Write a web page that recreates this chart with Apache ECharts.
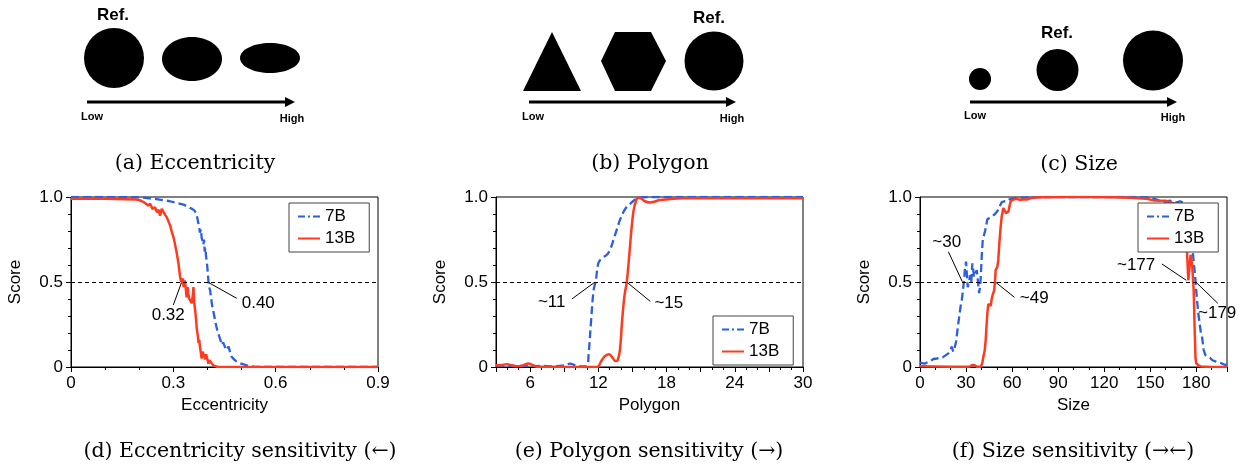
<!DOCTYPE html>
<html>
<head>
<meta charset="utf-8">
<script src="https://cdn.jsdelivr.net/npm/echarts@6/dist/echarts.min.js"></script>
<style>
  html, body { margin: 0; padding: 0; background: #fff; }
  #main { width: 1243px; height: 465px; }
</style>
</head>
<body>
<div id="main"></div>
<script>
// ---- data ----
// (d) eccentricity sensitivity
var ecc7B = [[0,1],[0.1,1],[0.2,0.998],[0.23,0.992],[0.25,0.988],[0.27,0.982],[0.29,0.975],[0.31,0.965],[0.33,0.955],[0.345,0.94],[0.355,0.93],[0.362,0.92],[0.367,0.905],[0.37,0.88],[0.373,0.85],[0.376,0.82],[0.378,0.79],[0.381,0.81],[0.383,0.76],[0.386,0.74],[0.388,0.72],[0.39,0.75],[0.392,0.68],[0.394,0.7],[0.396,0.65],[0.398,0.62],[0.4,0.58],[0.402,0.53],[0.403,0.5],[0.405,0.47],[0.408,0.45],[0.411,0.4],[0.413,0.37],[0.416,0.34],[0.418,0.33],[0.42,0.3],[0.423,0.27],[0.426,0.24],[0.428,0.235],[0.431,0.2],[0.435,0.178],[0.438,0.16],[0.441,0.13],[0.443,0.12],[0.446,0.145],[0.448,0.15],[0.451,0.12],[0.455,0.1],[0.458,0.11],[0.462,0.12],[0.466,0.09],[0.471,0.06],[0.478,0.045],[0.486,0.03],[0.496,0.022],[0.506,0.016],[0.515,0.01],[0.525,0.005],[0.54,0.001],[0.6,0],[0.9,0]];
var ecc13B = [[0,0.99],[0.1,0.99],[0.19,0.985],[0.2,0.982],[0.208,0.975],[0.217,0.965],[0.226,0.95],[0.232,0.96],[0.239,0.93],[0.246,0.94],[0.252,0.91],[0.257,0.925],[0.261,0.89],[0.266,0.93],[0.271,0.92],[0.276,0.895],[0.281,0.88],[0.286,0.855],[0.291,0.83],[0.296,0.79],[0.301,0.76],[0.306,0.71],[0.31,0.67],[0.315,0.61],[0.318,0.56],[0.32,0.53],[0.323,0.5],[0.325,0.49],[0.328,0.52],[0.33,0.47],[0.334,0.51],[0.337,0.45],[0.339,0.41],[0.342,0.47],[0.344,0.43],[0.347,0.4],[0.349,0.39],[0.352,0.41],[0.354,0.375],[0.357,0.42],[0.359,0.47],[0.361,0.38],[0.364,0.335],[0.367,0.27],[0.369,0.22],[0.372,0.18],[0.374,0.14],[0.376,0.16],[0.378,0.12],[0.381,0.08],[0.383,0.05],[0.386,0.09],[0.388,0.1],[0.391,0.06],[0.393,0.045],[0.396,0.075],[0.398,0.07],[0.401,0.035],[0.403,0.02],[0.406,0.04],[0.408,0.05],[0.411,0.025],[0.413,0.02],[0.417,0.01],[0.422,0.003],[0.43,0],[0.9,0]];
var eccTicks = [0, 0.3, 0.6, 0.9];
var eccNotes = [[0.285,0.306,'0.32'],[0.549,0.375,'0.40']];
var eccPointers = [[[0.3,0.365],[0.324,0.497]],[[0.403,0.497],[0.486,0.404]]];

// (e) polygon sensitivity
var poly7B = [[3,0.01],[4,0.008],[5,0.006],[6,0.005],[7,0.006],[8,0.004],[9,0.01],[9.5,0.02],[10.1,0.006],[10.6,0.003],[11,0.005],[11.15,0.08],[11.35,0.26],[11.58,0.45],[11.78,0.51],[12,0.61],[12.3,0.64],[12.75,0.66],[13.04,0.69],[13.34,0.75],[13.63,0.81],[13.93,0.87],[14.37,0.93],[14.8,0.96],[15.25,0.985],[15.7,0.998],[16.5,1],[18,1],[20,1],[25,1],[30,1]];
var poly13B = [[3,0.01],[3.5,0.012],[3.94,0.016],[4.4,0.01],[4.8,0.004],[5.3,0.008],[5.85,0.02],[6.2,0.012],[6.6,0.002],[7.5,0.001],[8.5,0.001],[9.5,0],[10.5,0],[11.5,0],[11.9,0],[12.3,0.04],[12.6,0.065],[12.95,0.075],[13.3,0.05],[13.5,0.035],[13.7,0.04],[13.9,0.1],[14.1,0.28],[14.3,0.42],[14.5,0.5],[14.7,0.64],[14.9,0.8],[15.1,0.92],[15.3,0.975],[15.5,0.995],[15.8,0.99],[16.1,0.975],[16.5,0.968],[16.9,0.972],[17.4,0.982],[18.3,0.988],[19.5,0.992],[22,0.993],[25,0.993],[30,0.993]];
var polyTicks = [6, 12, 18, 24, 30];
var polyNotes = [[7.9,0.38,'~11'],[18.2,0.373,'~15']];
var polyPointers = [[[9.67,0.4],[11.65,0.497]],[[14.55,0.497],[16.57,0.386]]];

// (f) size sensitivity
var size7B = [[0,0.027],[1.5,0.022],[3.3,0.02],[5,0.028],[6.5,0.033],[8.7,0.047],[11,0.05],[13,0.053],[15,0.058],[16.3,0.063],[18.5,0.08],[20,0.1],[20.6,0.12],[21.7,0.09],[22.5,0.11],[23.5,0.15],[25,0.26],[26.5,0.36],[27.2,0.39],[27.8,0.4],[28.7,0.51],[29.3,0.58],[30,0.62],[30.5,0.55],[31.1,0.47],[32,0.5],[32.6,0.54],[33.4,0.5],[34.1,0.61],[34.7,0.57],[35.2,0.53],[36,0.55],[37,0.57],[37.8,0.5],[38.5,0.435],[39.1,0.47],[39.6,0.53],[40.2,0.65],[40.9,0.75],[42.4,0.8],[43.9,0.87],[45,0.875],[46.1,0.88],[47.5,0.89],[48.9,0.9],[50,0.91],[51.1,0.925],[52.2,0.95],[53.3,0.97],[55,0.975],[56.5,0.975],[58,0.985],[59.8,0.99],[62,0.993],[65.2,0.995],[70,0.998],[80,1],[100,1],[120,1],[140,1],[147.8,0.998],[151,0.992],[154.3,0.985],[156.5,0.975],[158.7,0.97],[161,0.975],[163,0.978],[165,0.972],[167.4,0.968],[169.5,0.975],[171.7,0.965],[174,0.9],[176,0.8],[177.5,0.7],[178.5,0.6],[179.3,0.53],[180.4,0.4],[181.5,0.3],[183,0.2],[183.7,0.18],[184.8,0.1],[185.9,0.07],[187.5,0.06],[189.1,0.053],[190.5,0.04],[192.4,0.033],[193.5,0.025],[195.7,0.024],[197,0.015],[198.9,0.012],[200,0.015]];
var size13B = [[0,0.004],[10,0.003],[20,0.002],[30,0.002],[32.6,0.003],[34,0.012],[34.8,0.02],[35.6,0.01],[37,0.002],[39.6,0.002],[40.5,0.02],[41.3,0.06],[42.2,0.1],[42.8,0.16],[43.4,0.25],[43.9,0.32],[44.5,0.37],[45,0.38],[45.6,0.37],[46.1,0.36],[46.7,0.4],[47.2,0.42],[48.3,0.45],[48.8,0.5],[49.3,0.57],[50.4,0.59],[51,0.63],[51.7,0.73],[52.5,0.82],[53.3,0.89],[54.3,0.935],[55,0.925],[56,0.905],[57,0.91],[57.6,0.915],[58.4,0.95],[59.1,0.975],[60.9,0.985],[63,0.99],[65.2,0.983],[67,0.985],[69.6,0.985],[72.8,0.995],[80,0.998],[93.5,1],[110,1],[125,0.998],[137,0.995],[147.8,0.99],[152.2,0.98],[160,0.978],[166,0.96],[170,0.88],[172.5,0.75],[174,0.67],[174.8,0.51],[176.3,0.66],[177.3,0.6],[178.3,0.45],[179,0.2],[179.5,0.05],[180,0.02],[181.5,0.01],[183,0.003],[190,0],[200,0]];
var sizeTicks = [0, 30, 60, 90, 120, 150, 180];
var sizeNotes = [[17.4,0.733,'~30'],[74.4,0.404,'~49'],[140.8,0.6,'~177'],[193.6,0.316,'~179']];
var sizePointers = [[[18.5,0.678],[27.5,0.503]],[[49.5,0.497],[61.5,0.41]],[[157.6,0.606],[173.5,0.51]],[[180.2,0.495],[194,0.375]]];

// ---- style ----
var BLUE = "#2b5fe3";
var RED = "#ff3a1f";
var SANS = '"Liberation Sans", Arial, sans-serif';
var SERIF = '"DejaVu Serif", serif';

var mychart = echarts.init(document.getElementById("main"));

var panels = [
  { left: 71, name: "Eccentricity", min: 0, max: 0.9, interval: 0.3, minor: 3, ticks: eccTicks,
    b: ecc7B, r: ecc13B, notes: eccNotes, pointers: eccPointers, legend: [289, 203], smooth: false },
  { left: 496, name: "Polygon", min: 3, max: 30, interval: 3, minor: 3, ticks: polyTicks,
    b: poly7B, r: poly13B, notes: polyNotes, pointers: polyPointers, legend: [713, 316], smooth: 0.35 },
  { left: 920, name: "Size", min: 0, max: 200, interval: 30, minor: 3, ticks: sizeTicks,
    b: size7B, r: size13B, notes: sizeNotes, pointers: sizePointers, legend: [1138, 203], smooth: false },
];

var grids = [], xAxes = [], yAxes = [], series = [], legends = [];

panels.forEach(function (p, i) {
  grids.push({ left: p.left, top: 197, width: 307, height: 170, show: true,
    borderColor: "#000", borderWidth: 1, backgroundColor: "transparent" });

  xAxes.push({
    gridIndex: i, type: "value", min: p.min, max: p.max, interval: p.interval,
    name: p.name, nameLocation: "middle", nameGap: 30,
    nameTextStyle: { fontSize: 17, color: "#000", fontFamily: SANS },
    axisLine: { show: true, lineStyle: { color: "#000", width: 1 } },
    axisTick: { show: true, length: 5, lineStyle: { color: "#000" } },
    minorTick: { show: true, splitNumber: p.minor, length: 3, lineStyle: { color: "#000" } },
    splitLine: { show: false },
    axisLabel: {
      fontSize: 17, color: "#000", fontFamily: SANS, margin: 8,
      formatter: function (v) {
        var hit = p.ticks.filter(function (t) { return Math.abs(t - v) < 1e-6; });
        if (!hit.length) return "";
        if (v === 0) return "0";
        return p.max < 1 ? v.toFixed(1) : String(Math.round(v));
      },
    },
  });

  yAxes.push({
    gridIndex: i, type: "value", min: 0, max: 1, interval: 0.5,
    name: "Score", nameLocation: "middle", nameGap: 47,
    nameTextStyle: { fontSize: 17, color: "#000", fontFamily: SANS },
    axisLine: { show: true, lineStyle: { color: "#000", width: 1 } },
    axisTick: { show: true, length: 5, lineStyle: { color: "#000" } },
    minorTick: { show: true, splitNumber: 5, length: 3, lineStyle: { color: "#000" } },
    splitLine: { show: false },
    axisLabel: {
      fontSize: 17, color: "#000", fontFamily: SANS, margin: 8,
      formatter: function (v) {
        return v === 0 ? "0" : v.toFixed(1);
      },
    },
  });

  series.push({
    name: "7B", type: "line", xAxisIndex: i, yAxisIndex: i, data: p.b,
    symbol: "none", smooth: p.smooth, z: 3,
    lineStyle: { color: BLUE, width: 2.3, type: [8, 4] },
    itemStyle: { color: BLUE },
  });
  series.push({
    name: "13B", type: "line", xAxisIndex: i, yAxisIndex: i, data: p.r,
    symbol: "none", smooth: p.smooth, z: 4,
    lineStyle: { color: RED, width: 2.5 },
    itemStyle: { color: RED },
  });

  // labels plus the pointer lines and the 0.5 reference
  var marks = [{ yAxis: 0.5, lineStyle: { color: "#000", type: [4, 3], width: 1 } }];
  p.pointers.forEach(function (seg) {
    marks.push([
      { coord: seg[0], lineStyle: { color: "#000", type: "solid", width: 1 } },
      { coord: seg[1] },
    ]);
  });
  series.push({
    name: "notes" + i, type: "scatter", xAxisIndex: i, yAxisIndex: i,
    data: p.notes, symbolSize: 0, silent: true, z: 5,
    itemStyle: { opacity: 1 },
    label: {
      show: true, position: "inside", color: "#000", opacity: 1, fontSize: 17, fontFamily: SANS,
      formatter: function (q) { return q.value[2]; },
    },
    markLine: {
      silent: true, symbol: "none", label: { show: false },
      animation: false, data: marks,
    },
  });

  legends.push({
    data: [
      { name: "7B", lineStyle: { type: [7, 3, 2, 3] } },
      { name: "13B" },
    ],
    left: p.legend[0], top: p.legend[1],
    orient: "vertical", itemWidth: 22, itemHeight: 14, itemGap: 5,
    padding: [5, 14, 5, 8], borderColor: "#444", borderWidth: 1,
    backgroundColor: "#fff", selectedMode: false, z: 10,
    itemStyle: { opacity: 0 },
    textStyle: { fontSize: 17, color: "#000", fontFamily: SANS },
  });
});

// ---- illustrations above the plots ----
function txt(x, y, text, font) {
  return { type: "text", x: x, y: y, silent: true,
    style: { text: text, font: font, fill: "#000", textAlign: "center", textVerticalAlign: "middle",
      align: "center", verticalAlign: "middle" } };
}
function arrow(x1, x2, y) {
  return [
    { type: "line", shape: { x1: x1, y1: y, x2: x2 - 6, y2: y }, style: { stroke: "#000", lineWidth: 3 } },
    { type: "polygon", shape: { points: [[x2 - 10, y - 5], [x2, y], [x2 - 10, y + 5]] }, style: { fill: "#000" } },
  ];
}
var BOLD = 'bold 17px ' + SANS;
var SMALL = 'bold 11px ' + SANS;
var CAP = '20.5px ' + SERIF;

var graphics = [
  // (a)
  { type: "circle", shape: { cx: 114, cy: 58, r: 30 }, style: { fill: "#000" } },
  { type: "ellipse", shape: { cx: 192, cy: 59, rx: 30, ry: 22 }, style: { fill: "#000" } },
  { type: "ellipse", shape: { cx: 270, cy: 58, rx: 30, ry: 15 }, style: { fill: "#000" } },
  txt(113, 15, "Ref.", BOLD),
  txt(92, 117, "Low", SMALL),
  txt(292, 119, "High", SMALL),
  txt(195, 164, "(a) Eccentricity", CAP),
  // (b)
  { type: "polygon", shape: { points: [[552, 32], [581, 91], [523, 91]] }, style: { fill: "#000" } },
  { type: "polygon", shape: { points: [[615, 32], [651, 32], [666, 61], [651, 91], [615, 91], [601, 61]] }, style: { fill: "#000" } },
  { type: "circle", shape: { cx: 714, cy: 61, r: 29.5 }, style: { fill: "#000" } },
  txt(709, 18, "Ref.", BOLD),
  txt(533, 117, "Low", SMALL),
  txt(732, 119, "High", SMALL),
  txt(650, 164, "(b) Polygon", CAP),
  // (c)
  { type: "circle", shape: { cx: 980, cy: 79, r: 11 }, style: { fill: "#000" } },
  { type: "circle", shape: { cx: 1057.5, cy: 70, r: 21 }, style: { fill: "#000" } },
  { type: "circle", shape: { cx: 1153, cy: 60.5, r: 30 }, style: { fill: "#000" } },
  txt(1057, 33, "Ref.", BOLD),
  txt(975, 116, "Low", SMALL),
  txt(1173, 118, "High", SMALL),
  txt(1079, 165, "(c) Size", CAP),
  // captions below the plots
  txt(240, 452, "(d) Eccentricity sensitivity (\u2190)", CAP),
  txt(649, 452, "(e) Polygon sensitivity (\u2192)", CAP),
  txt(1073, 452, "(f) Size sensitivity (\u2192\u2190)", CAP),
]
  .concat(arrow(87, 295, 102))
  .concat(arrow(529, 736, 102))
  .concat(arrow(970, 1177, 102));

var option = {
  backgroundColor: "#fff",
  animation: false,
  grid: grids,
  xAxis: xAxes,
  yAxis: yAxes,
  legend: legends,
  series: series,
  graphic: { elements: graphics },
};

mychart.setOption(option);
mychart.resize();
</script>
</body>
</html>
